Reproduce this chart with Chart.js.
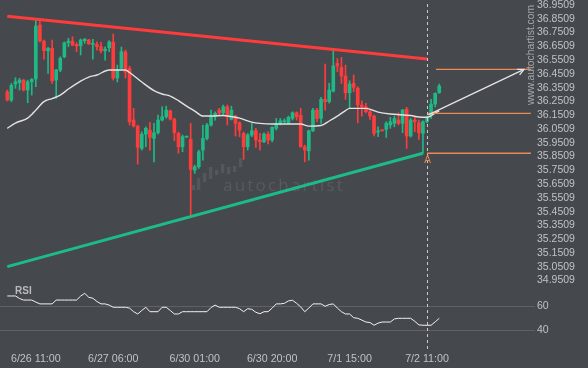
<!DOCTYPE html>
<html>
<head>
<meta charset="utf-8">
<script src="https://cdn.jsdelivr.net/npm/chart.js@4/dist/chart.umd.min.js"></script>
<style>
  html, body { margin: 0; padding: 0; background: #45484d; }
  #wrap { width: 588px; height: 368px; position: relative; }
</style>
</head>
<body>
<div id="wrap"><canvas id="chart" width="588" height="368"></canvas></div>
<script>
// hourly candles, index 0 = first bar on the left
const opens = [36.321,36.261,36.377,36.387,36.406,36.334,36.394,36.414,36.806,36.689,
  36.619,36.636,36.406,36.479,36.575,36.677,36.689,36.665,36.655,36.692,
  36.697,36.665,36.665,36.648,36.619,36.641,36.682,36.421,36.491,36.610,
  36.491,36.116,36.072,35.910,36.014,36.043,35.983,36.024,36.116,36.140,
  36.183,36.123,36.019,35.922,35.992,35.976,35.753,35.777,35.898,35.983,
  36.080,36.140,36.188,36.169,36.212,36.121,36.145,36.096,36.019,35.922,
  36.007,36.038,35.971,35.958,36.014,35.971,36.056,36.092,36.104,36.096,
  36.128,36.169,36.150,35.922,35.893,36.038,36.188,36.128,36.266,36.249,
  36.326,36.527,36.498,36.435,36.314,36.382,36.346,36.225,36.212,36.176,
  36.145,36.029,36.043,36.049,36.080,36.092,36.116,36.092,36.194,36.000,
  36.116,36.096,36.019,36.104,36.165,36.232,36.314];
const highs = [36.334,36.382,36.423,36.419,36.411,36.406,36.417,36.842,36.837,36.697,
  36.644,36.697,36.484,36.575,36.682,36.709,36.721,36.677,36.704,36.709,
  36.702,36.702,36.684,36.680,36.648,36.692,36.740,36.515,36.646,36.624,
  36.508,36.201,36.080,36.031,36.067,36.099,36.092,36.152,36.212,36.217,
  36.188,36.130,36.029,36.007,36.000,36.092,35.789,35.898,36.080,36.092,
  36.188,36.176,36.201,36.225,36.225,36.217,36.152,36.104,36.029,36.019,
  36.092,36.056,36.019,36.024,36.031,36.067,36.128,36.128,36.125,36.145,
  36.176,36.176,36.201,35.934,36.043,36.201,36.201,36.281,36.522,36.384,
  36.624,36.562,36.571,36.515,36.401,36.443,36.358,36.256,36.237,36.188,
  36.152,36.067,36.047,36.104,36.136,36.145,36.169,36.194,36.208,36.128,
  36.136,36.116,36.111,36.145,36.266,36.314,36.377];
const lows = [36.254,36.249,36.346,36.334,36.326,36.241,36.297,36.358,36.682,36.557,
  36.455,36.382,36.273,36.466,36.568,36.648,36.655,36.612,36.588,36.673,
  36.665,36.557,36.624,36.604,36.551,36.612,36.406,36.392,36.486,36.421,
  36.080,36.065,35.796,35.898,35.922,35.898,35.813,36.014,36.109,36.128,
  36.116,35.966,35.876,35.886,35.989,35.419,35.729,35.765,35.825,35.971,
  36.072,36.116,36.152,36.152,36.080,36.116,36.000,35.995,35.831,35.898,
  35.995,35.918,35.898,35.951,35.942,35.958,36.043,36.080,36.092,36.087,
  36.116,36.116,35.918,35.813,35.825,36.031,36.104,36.092,36.188,36.239,
  36.319,36.466,36.382,36.266,36.201,36.321,36.096,36.145,36.167,36.121,
  36.000,35.995,36.036,35.990,36.056,36.067,36.080,36.024,35.910,35.992,
  36.031,35.976,35.874,36.096,36.128,36.212,36.310];
const closes = [36.261,36.368,36.394,36.406,36.334,36.394,36.411,36.798,36.692,36.619,
  36.636,36.401,36.479,36.564,36.677,36.689,36.660,36.653,36.697,36.702,
  36.668,36.673,36.648,36.619,36.631,36.682,36.421,36.479,36.612,36.464,
  36.104,36.072,35.918,36.014,36.056,35.990,36.024,36.116,36.140,36.188,
  36.123,36.024,35.922,35.995,35.996,35.758,35.777,35.886,35.983,36.080,
  36.140,36.165,36.165,36.212,36.140,36.188,36.092,36.043,35.922,36.007,
  36.038,35.971,35.958,36.014,35.971,36.063,36.092,36.111,36.111,36.136,
  36.169,36.140,35.922,35.898,36.038,36.188,36.128,36.266,36.249,36.334,
  36.508,36.508,36.435,36.314,36.377,36.353,36.225,36.212,36.176,36.145,
  36.019,36.038,36.038,36.092,36.104,36.128,36.092,36.188,36.000,36.116,
  36.104,36.024,36.104,36.136,36.232,36.310,36.363];

// moving average, read at these bar indexes
const maIndex = [0,2,5,6,7,9,11,13,15,18,20,22,25,27,29,30,33,36,38,40,42,44,46,48,50,53,55,57,60,62,
  65,70,72,74,77,79,81,83,84,88,91,94,99,101,103,105,106];
const maValues = [36.056,36.094,36.130,36.156,36.188,36.250,36.272,36.297,36.341,36.399,
  36.428,36.443,36.479,36.479,36.479,36.461,36.392,36.330,36.305,36.290,
  36.257,36.217,36.181,36.145,36.145,36.149,36.141,36.130,36.101,36.092,
  36.087,36.087,36.087,36.072,36.076,36.109,36.145,36.185,36.201,36.201,
  36.174,36.160,36.149,36.138,36.136,36.167,36.181];

const rsiValues = [68.6,68.6,68.6,66.5,65.2,65.2,65.2,63.5,62,62,
  62,62,65.2,65.2,65.2,65.2,65.2,65.2,68.5,70.8,
  67.5,66.7,64,62,62,61,59.2,59.2,59.2,59.2,
  58.5,55.5,53.6,56.5,59.2,55.5,55.5,55.5,59.2,59.2,
  56.5,53.6,53.6,55.5,55.5,55.5,55.5,55.5,55.5,55.5,
  59,61,59.2,59.2,59.2,59.2,59.2,58,55.5,58,
  57.5,55,53.8,55.5,55.5,58.5,62,62,62.5,64.5,
  65,62.5,59.5,55.5,58.5,62,62,62,60,61.5,
  62,58.5,55.5,53.6,53.6,50.5,50,48.5,46.9,46.5,
  44.2,46,46.9,46.9,46.9,49.5,50,50,50,50,
  47.5,44.5,44.2,44.2,44.2,47,50];

// triangle pattern and forecast
const resistanceIdx = [0, 103];
const resistance = [36.869, 36.559];
const supportIdx = [0, 102];
const support = [35.052, 35.875];
const levelValues = [35.875, 36.165, 36.484];
const levelStart = [103, 103.3, 105.2];
const levelEnd = 128.5;
const forecastIdx = [103.3, 126.8];
const forecast = [36.153, 36.484];
const signalIdx = 103;

const xTickIdx = [7, 26, 46, 65, 84, 103];
const xTickText = ['6/26 11:00', '6/27 06:00', '6/30 01:00', '6/30 20:00', '7/1 15:00', '7/2 11:00'];
const priceTicks = [34.9509, 35.0509, 35.1509, 35.2509, 35.3509, 35.4509, 35.5509, 35.6509, 35.7509,
  35.8509, 35.9509, 36.0509, 36.1509, 36.2509, 36.3509, 36.4509, 36.5509, 36.6509, 36.7509, 36.8509, 36.9509];
const rsiTicks = [40, 60];

const GREEN = '#1fb985';
const RED = '#ff3c3c';
const ORANGE = '#ec8a52';
const candleColors = closes.map((c, i) => c >= opens[i] ? GREEN : RED);

Chart.defaults.font.family = '"Liberation Sans", Arial, sans-serif';
Chart.defaults.color = '#bfc2c7';

const pts = (xs, ys) => xs.map((x, k) => ({ x: x, y: ys[k] }));
const lineSet = (data, color, width, order, axis) => ({
  type: 'line', data: data, borderColor: color, borderWidth: width,
  pointRadius: 0, yAxisID: axis || 'y', order: order, tension: 0
});

const sideAxis = s => { s.width = 53; s.paddingTop = 0; s.paddingBottom = 0; };

const decor = {
  id: 'decor',
  beforeDraw(chart) {
    const ctx = chart.ctx;
    ctx.save();
    ctx.fillStyle = '#45484d';
    ctx.fillRect(0, 0, chart.width, chart.height);
    ctx.restore();
  },
  beforeDatasetsDraw(chart) {
    const ctx = chart.ctx;
    ctx.save();
    // faded logo behind the candles
    ctx.fillStyle = '#54575c';
    [[192,185,190],[197,178,190],[203,173,182],[209,167,179],[215,170,175],
     [221,164,173],[227,167,174],[233,166,172],[239,158,167]].forEach(b => {
      ctx.fillRect(b[0], b[1], 3.3, b[2] - b[1]);
    });
    ctx.fillStyle = '#575a5f';
    ctx.font = '17px "Open Sans", sans-serif';
    ctx.letterSpacing = '2.2px';
    ctx.textBaseline = 'alphabetic';
    ctx.fillText('autochartist', 223, 191);
    ctx.letterSpacing = '0px';

    ctx.translate(531, 55);
    ctx.rotate(-Math.PI / 2);
    ctx.fillStyle = '#a3a6ab';
    ctx.font = '10.3px "Liberation Sans", Arial, sans-serif';
    ctx.textAlign = 'center';
    ctx.textBaseline = 'middle';
    ctx.fillText('www.autochartist.com', 0, 0);
    ctx.restore();
  },
  afterDatasetsDraw(chart) {
    const ctx = chart.ctx;
    const x = chart.scales.x, y = chart.scales.y;
    ctx.save();
    // signal time marker
    const sx = Math.round(x.getPixelForValue(signalIdx)) + 0.5;
    ctx.strokeStyle = '#c8cacd';
    ctx.lineWidth = 1;
    ctx.setLineDash([3, 3]);
    ctx.beginPath();
    ctx.moveTo(sx, 4);
    ctx.lineTo(sx, chart.chartArea.bottom);
    ctx.stroke();
    ctx.setLineDash([]);

    // arrow head on the forecast line
    const p = chart.getDatasetMeta(chart.data.datasets.findIndex(d => d.label === 'forecast')).data;
    const a = p[0], b = p[1];
    const ang = Math.atan2(b.y - a.y, b.x - a.x);
    ctx.strokeStyle = '#e4e4e4';
    ctx.lineWidth = 1.3;
    ctx.beginPath();
    ctx.moveTo(b.x - 7 * Math.cos(ang - 0.45), b.y - 7 * Math.sin(ang - 0.45));
    ctx.lineTo(b.x, b.y);
    ctx.lineTo(b.x - 7 * Math.cos(ang + 0.45), b.y - 7 * Math.sin(ang + 0.45));
    ctx.stroke();

    // point label
    ctx.fillStyle = ORANGE;
    ctx.font = '10px "Liberation Sans", Arial, sans-serif';
    ctx.textAlign = 'center';
    ctx.textBaseline = 'middle';
    ctx.fillText('A', sx, y.getPixelForValue(support[1]) + 7);
    ctx.restore();
  },
  afterDraw(chart) {
    const ctx = chart.ctx;
    ctx.save();
    ctx.fillStyle = '#b7babf';
    ctx.font = 'bold 10px "Liberation Sans", Arial, sans-serif';
    ctx.textBaseline = 'middle';
    ctx.fillText('RSI', 15, 291.5);
    ctx.restore();
  }
};

new Chart(document.getElementById('chart'), {
  data: {
    datasets: [
      Object.assign(lineSet(pts(forecastIdx, forecast), '#e4e4e4', 1.3, 0), { label: 'forecast' }),
      lineSet(pts(resistanceIdx, resistance), RED, 3, 1),
      lineSet(pts(supportIdx, support), '#1dbb88', 3, 1),
      ...levelValues.map((v, k) => lineSet(pts([levelStart[k], levelEnd], [v, v]), ORANGE, 1.3, 2)),
      Object.assign(lineSet(pts(maIndex, maValues), '#e2e2e2', 1.4, 3), { cubicInterpolationMode: 'monotone' }),
      lineSet(rsiValues.map((v, i) => ({ x: i, y: v })), '#f2f2f2', 1, 3, 'rsi'),
      {
        type: 'bar', label: 'bodies',
        data: opens.map((o, i) => ({ x: i, y: [o, closes[i]] })),
        backgroundColor: candleColors, barThickness: 3, minBarLength: 1,
        grouped: false, yAxisID: 'y', order: 5
      },
      {
        type: 'bar', label: 'wicks',
        data: lows.map((l, i) => ({ x: i, y: [l, highs[i]] })),
        backgroundColor: candleColors, barThickness: 1, minBarLength: 1,
        grouped: false, yAxisID: 'y', order: 6
      }
    ]
  },
  options: {
    responsive: false,
    animation: false,
    devicePixelRatio: 1,
    layout: { padding: 0 },
    plugins: { legend: { display: false }, tooltip: { enabled: false } },
    scales: {
      x: {
        type: 'linear', min: -1.79, max: 129.5, offset: false,
        grid: { display: false, drawTicks: false, offset: false },
        border: { display: false },
        afterBuildTicks: s => { s.ticks = xTickIdx.map(v => ({ value: v })); },
        afterFit: s => { s.height = 18; s.paddingLeft = 0; s.paddingRight = 0; },
        ticks: {
          autoSkip: false, maxRotation: 0, padding: 3,
          font: { size: 10.7 }, color: '#bfc2c7',
          callback: v => xTickText[xTickIdx.indexOf(v)]
        }
      },
      y: {
        type: 'linear', position: 'right', stack: 'panes', stackWeight: 285,
        min: 34.919, max: 36.9872,
        grid: { display: false, drawTicks: false },
        border: { display: false },
        afterBuildTicks: s => { s.ticks = priceTicks.map(v => ({ value: v })); },
        afterFit: sideAxis,
        ticks: { autoSkip: false, padding: 2, font: { size: 10.5 }, color: '#bfc2c7', callback: v => v.toFixed(4) }
      },
      rsi: {
        type: 'linear', position: 'right', stack: 'panes', stackWeight: 65,
        min: 23.58, max: 77.75,
        grid: { color: '#5e6166', lineWidth: 1, drawTicks: false },
        border: { display: false },
        afterBuildTicks: s => { s.ticks = rsiTicks.map(v => ({ value: v })); },
        afterFit: sideAxis,
        ticks: { autoSkip: false, padding: 2, font: { size: 10.5 }, color: '#bfc2c7' }
      }
    }
  },
  plugins: [decor]
});
</script>
</body>
</html>
